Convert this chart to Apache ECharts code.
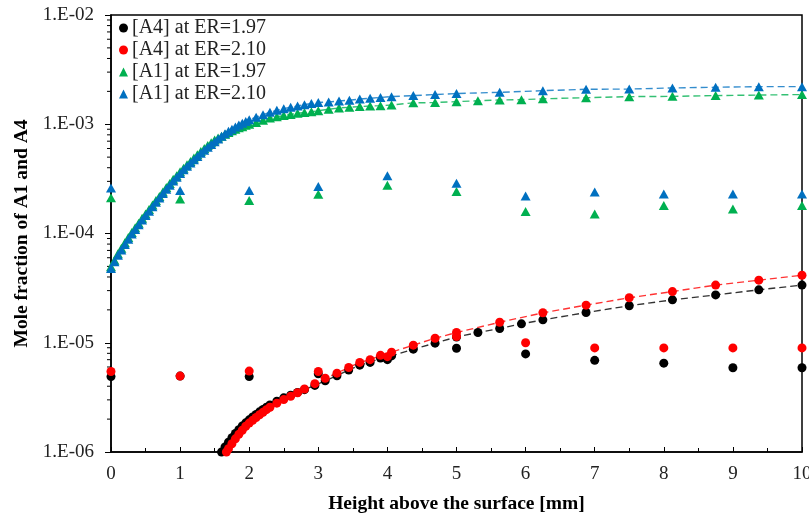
<!DOCTYPE html>
<html>
<head>
<meta charset="utf-8">
<script src="https://cdn.jsdelivr.net/npm/echarts@6/dist/echarts.min.js"></script>
<style>html,body{margin:0;padding:0;background:#fff}#c{width:809px;height:515px}</style>
</head>
<body>
<div id="c"></div>
<script>
// ---------- data ----------
const seriesNames = ['[A4] at ER=1.97', '[A4] at ER=2.10', '[A1] at ER=1.97', '[A1] at ER=2.10'];
const yTickLabels = {'-6': '1.E-06', '-5': '1.E-05', '-4': '1.E-04', '-3': '1.E-03', '-2': '1.E-02'};

// experimental points
const expX = [0, 1, 2, 3, 4, 5, 6, 7, 8, 9, 10];
const expA4_197 = [4.9e-6, 4.95e-6, 4.9e-6, 5.2e-6, 7.0e-6, 8.9e-6, 7.9e-6, 6.9e-6, 6.5e-6, 5.9e-6, 5.9e-6];
const expA4_210 = [5.46e-6, 4.95e-6, 5.5e-6, 5.46e-6, 7.46e-6, 1.14e-5, 1.0e-5, 8.97e-6, 8.97e-6, 8.97e-6, 8.97e-6];
const expA1_197 = [2.12e-4, 2.07e-4, 2.0e-4, 2.29e-4, 2.77e-4, 2.42e-4, 1.59e-4, 1.51e-4, 1.80e-4, 1.68e-4, 1.80e-4];
const expA1_210 = [2.61e-4, 2.47e-4, 2.47e-4, 2.69e-4, 3.37e-4, 2.88e-4, 2.21e-4, 2.40e-4, 2.30e-4, 2.30e-4, 2.30e-4];

// simulated profiles
const simA4_197_x = [1.60, 1.65, 1.70, 1.75, 1.80, 1.85, 1.90, 1.95, 2.0, 2.05, 2.1, 2.15, 2.2, 2.25, 2.3, 2.4, 2.5, 2.6, 2.7, 2.8, 2.95, 3.1, 3.27, 3.44, 3.6, 3.75, 3.9, 4.06, 4.375, 4.69, 5.0, 5.31, 5.625, 5.94, 6.25, 6.875, 7.5, 8.125, 8.75, 9.375, 10];
const simA4_197_y = [1.0e-6, 1.11e-6, 1.23e-6, 1.35e-6, 1.48e-6, 1.60e-6, 1.73e-6, 1.85e-6, 1.97e-6, 2.09e-6, 2.21e-6, 2.33e-6, 2.45e-6, 2.57e-6, 2.69e-6, 2.92e-6, 3.13e-6, 3.31e-6, 3.51e-6, 3.72e-6, 4.07e-6, 4.49e-6, 4.99e-6, 5.62e-6, 6.24e-6, 6.61e-6, 7.24e-6, 7.58e-6, 8.74e-6, 9.91e-6, 1.13e-5, 1.24e-5, 1.35e-5, 1.49e-5, 1.62e-5, 1.89e-5, 2.18e-5, 2.47e-5, 2.74e-5, 3.05e-5, 3.37e-5];

const simA4_210_x = [1.67, 1.70, 1.75, 1.80, 1.85, 1.90, 1.95, 2.0, 2.05, 2.1, 2.15, 2.2, 2.25, 2.3, 2.4, 2.5, 2.6, 2.7, 2.8, 2.95, 3.1, 3.27, 3.44, 3.6, 3.75, 3.9, 4.06, 4.375, 4.69, 5.0, 5.625, 6.25, 6.875, 7.5, 8.125, 8.75, 9.375, 10];
const simA4_210_y = [1.0e-6, 1.07e-6, 1.19e-6, 1.32e-6, 1.45e-6, 1.58e-6, 1.72e-6, 1.84e-6, 1.95e-6, 2.07e-6, 2.19e-6, 2.31e-6, 2.44e-6, 2.57e-6, 2.80e-6, 3.02e-6, 3.24e-6, 3.49e-6, 3.77e-6, 4.22e-6, 4.73e-6, 5.27e-6, 5.94e-6, 6.61e-6, 7.0e-6, 7.67e-6, 8.2e-6, 9.5e-6, 1.10e-5, 1.24e-5, 1.54e-5, 1.88e-5, 2.21e-5, 2.58e-5, 2.94e-5, 3.37e-5, 3.74e-5, 4.15e-5];

const simA1_197_x = [0, 0.05, 0.1, 0.15, 0.2, 0.25, 0.3, 0.35, 0.4, 0.45, 0.5, 0.55, 0.6, 0.65, 0.7, 0.75, 0.8, 0.85, 0.9, 0.95, 1.0, 1.05, 1.1, 1.15, 1.2, 1.25, 1.3, 1.35, 1.4, 1.45, 1.5, 1.55, 1.6, 1.65, 1.7, 1.75, 1.8, 1.85, 1.9, 1.95, 2.0, 2.1, 2.2, 2.3, 2.4, 2.5, 2.6, 2.7, 2.8, 2.9, 3.0, 3.15, 3.3, 3.45, 3.6, 3.75, 3.9, 4.06, 4.375, 4.69, 5.0, 5.31, 5.625, 5.94, 6.25, 6.875, 7.5, 8.125, 8.75, 9.375, 10];
const simA1_197_y = [4.96e-5, 5.69e-5, 6.53e-5, 7.33e-5, 8.22e-5, 9.18e-5, 1.02e-4, 1.13e-4, 1.24e-4, 1.38e-4, 1.51e-4, 1.66e-4, 1.82e-4, 2.00e-4, 2.18e-4, 2.40e-4, 2.63e-4, 2.87e-4, 3.13e-4, 3.38e-4, 3.67e-4, 3.96e-4, 4.26e-4, 4.57e-4, 4.90e-4, 5.25e-4, 5.62e-4, 5.99e-4, 6.39e-4, 6.76e-4, 7.16e-4, 7.50e-4, 7.76e-4, 8.10e-4, 8.41e-4, 8.70e-4, 9.01e-4, 9.27e-4, 9.51e-4, 9.78e-4, 1.00e-3, 1.04e-3, 1.09e-3, 1.14e-3, 1.17e-3, 1.20e-3, 1.23e-3, 1.26e-3, 1.28e-3, 1.30e-3, 1.33e-3, 1.37e-3, 1.41e-3, 1.43e-3, 1.45e-3, 1.47e-3, 1.48e-3, 1.50e-3, 1.57e-3, 1.58e-3, 1.61e-3, 1.64e-3, 1.67e-3, 1.68e-3, 1.71e-3, 1.75e-3, 1.79e-3, 1.80e-3, 1.83e-3, 1.85e-3, 1.87e-3];

const simA1_210_x = [0, 0.05, 0.1, 0.15, 0.2, 0.25, 0.3, 0.35, 0.4, 0.45, 0.5, 0.55, 0.6, 0.65, 0.7, 0.75, 0.8, 0.85, 0.9, 0.95, 1.0, 1.05, 1.1, 1.15, 1.2, 1.25, 1.3, 1.35, 1.4, 1.45, 1.5, 1.55, 1.6, 1.65, 1.7, 1.75, 1.8, 1.85, 1.9, 1.95, 2.0, 2.1, 2.2, 2.3, 2.4, 2.5, 2.6, 2.7, 2.8, 2.9, 3.0, 3.15, 3.3, 3.45, 3.6, 3.75, 3.9, 4.06, 4.375, 4.69, 5.0, 5.625, 6.25, 6.875, 7.5, 8.125, 8.75, 9.375, 10];
const simA1_210_y = [4.79e-5, 5.50e-5, 6.31e-5, 7.08e-5, 7.94e-5, 8.87e-5, 9.89e-5, 1.09e-4, 1.20e-4, 1.33e-4, 1.46e-4, 1.60e-4, 1.76e-4, 1.93e-4, 2.11e-4, 2.32e-4, 2.54e-4, 2.77e-4, 3.02e-4, 3.27e-4, 3.55e-4, 3.83e-4, 4.12e-4, 4.42e-4, 4.73e-4, 5.07e-4, 5.43e-4, 5.79e-4, 6.17e-4, 6.53e-4, 6.92e-4, 7.33e-4, 7.76e-4, 8.18e-4, 8.61e-4, 9.02e-4, 9.44e-4, 9.84e-4, 1.02e-3, 1.06e-3, 1.10e-3, 1.16e-3, 1.22e-3, 1.29e-3, 1.34e-3, 1.39e-3, 1.43e-3, 1.47e-3, 1.51e-3, 1.55e-3, 1.58e-3, 1.60e-3, 1.63e-3, 1.66e-3, 1.70e-3, 1.73e-3, 1.76e-3, 1.79e-3, 1.83e-3, 1.87e-3, 1.91e-3, 1.96e-3, 2.03e-3, 2.09e-3, 2.10e-3, 2.15e-3, 2.18e-3, 2.21e-3, 2.21e-3];

// ---------- chart ----------
const COL = {a4_197: '#000000', a4_210: '#FF0000', a1_197: '#00B050', a1_210: '#0070C0'};
const FONT = '"Liberation Serif", "Times New Roman", serif';
const zip = (xs, ys) => xs.map((x, i) => [x, ys[i]]);
const minorDecades = [-6, -5, -4, -3];
const yMinorTicks = [];
minorDecades.forEach(d => { for (let k = 2; k <= 9; k++) yMinorTicks.push(k * Math.pow(10, d)); });

const CIRCLE = 9, TRI = [10, 9];

function expSeries(name, data, color, symbol, size) {
  return {type: 'scatter', name, data: zip(expX, data), symbol, symbolSize: size,
    itemStyle: {color, opacity: 1}, silent: true, z: 3};
}
function simSeries(name, xs, ys, color, symbol, size) {
  return {type: 'line', name, data: zip(xs, ys), symbol, symbolSize: size, showAllSymbol: true,
    itemStyle: {color, opacity: 1}, lineStyle: {color, width: 1.4, type: [7, 4], opacity: 0.8},
    silent: true, z: 3};
}

const chart = echarts.init(document.getElementById('c'), null, {renderer: 'canvas'});
chart.setOption({
  animation: false,
  backgroundColor: '#fff',
  grid: {left: 111, right: 7, top: 15, bottom: 63, show: true, borderColor: '#000', borderWidth: 1.5,
    backgroundColor: 'transparent', containLabel: false, outerBoundsMode: 'none'},
  legend: {
    left: 114, top: 13, orient: 'vertical', itemGap: 2, itemWidth: 9, itemHeight: 9,
    textStyle: {fontFamily: FONT, fontSize: 20, color: '#222', padding: [0, 0, 0, -1]},
    data: [
      {name: seriesNames[0], icon: 'circle', itemStyle: {color: COL.a4_197}},
      {name: seriesNames[1], icon: 'circle', itemStyle: {color: COL.a4_210}},
      {name: seriesNames[2], icon: 'triangle', itemStyle: {color: COL.a1_197}},
      {name: seriesNames[3], icon: 'triangle', itemStyle: {color: COL.a1_210}}
    ]
  },
  xAxis: {
    type: 'value', min: 0, max: 10, interval: 1,
    name: 'Height above the surface [mm]', nameLocation: 'middle', nameGap: 42,
    nameTextStyle: {fontFamily: FONT, fontSize: 19.5, fontWeight: 'bold', color: '#000'},
    axisLine: {lineStyle: {color: '#000', width: 1.5}},
    axisTick: {inside: true, length: 5, lineStyle: {color: '#000'}},
    minorTick: {show: true, splitNumber: 2, length: 4, lineStyle: {color: '#000'}},
    splitLine: {show: false},
    axisLabel: {fontFamily: FONT, fontSize: 19, color: '#222', margin: 13}
  },
  yAxis: {
    type: 'log', logBase: 10, min: 1e-6, max: 1e-2,
    name: 'Mole fraction of A1 and A4', nameLocation: 'middle', nameGap: 79,
    nameTextStyle: {fontFamily: FONT, fontSize: 19.5, fontWeight: 'bold', color: '#000'},
    axisLine: {show: true, lineStyle: {color: '#000', width: 1.5}},
    axisTick: {show: true, inside: false, length: 6, lineStyle: {color: '#000'}},
    minorTick: {show: false},
    splitLine: {show: false},
    axisLabel: {fontFamily: FONT, fontSize: 19, color: '#222', margin: 17,
      formatter: v => yTickLabels[String(Math.round(Math.log10(v)))] || ''}
  },
  series: [
    {type: 'custom', silent: true, clip: false, z: 1,
     data: yMinorTicks.map(v => [0, v]),
     renderItem: (params, api) => {
       const p = api.coord([0, api.value(1)]);
       return {type: 'line', shape: {x1: p[0] - 4, y1: p[1], x2: p[0], y2: p[1]},
         style: {stroke: '#000', lineWidth: 1}};
     }},
    simSeries(seriesNames[0], simA4_197_x, simA4_197_y, COL.a4_197, 'circle', CIRCLE),
    expSeries(seriesNames[0], expA4_197, COL.a4_197, 'circle', CIRCLE),
    simSeries(seriesNames[1], simA4_210_x, simA4_210_y, COL.a4_210, 'circle', CIRCLE),
    expSeries(seriesNames[1], expA4_210, COL.a4_210, 'circle', CIRCLE),
    simSeries(seriesNames[2], simA1_197_x, simA1_197_y, COL.a1_197, 'triangle', TRI),
    expSeries(seriesNames[2], expA1_197, COL.a1_197, 'triangle', TRI),
    simSeries(seriesNames[3], simA1_210_x, simA1_210_y, COL.a1_210, 'triangle', TRI),
    expSeries(seriesNames[3], expA1_210, COL.a1_210, 'triangle', TRI)
  ]
});
</script>
</body>
</html>
